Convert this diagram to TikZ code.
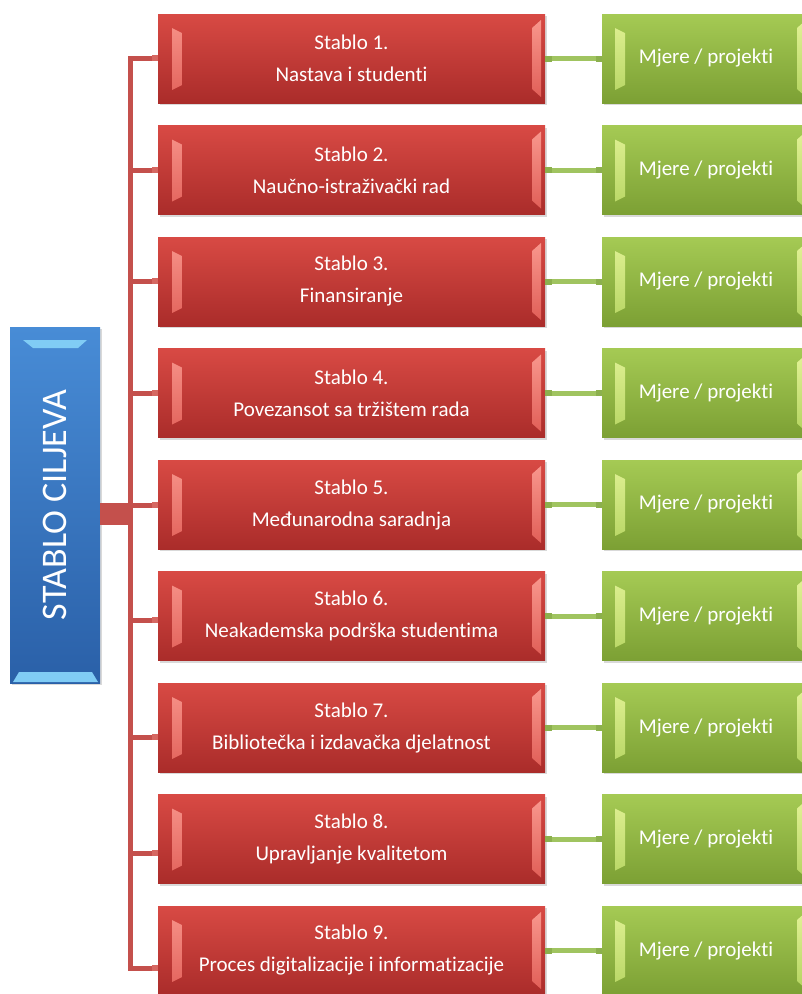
\documentclass[tikz,border=0pt]{standalone}
\usepackage{fontspec}
\setmainfont{Carlito}[Ligatures={NoCommon}]
\usetikzlibrary{calc,shadows}
\definecolor{redTop}{RGB}{216,74,68}
\definecolor{redBot}{RGB}{170,44,42}
\definecolor{redFacetA}{RGB}{248,150,140}
\definecolor{redFacetB}{RGB}{225,95,88}
\definecolor{greenTop}{RGB}{165,202,84}
\definecolor{greenBot}{RGB}{124,160,52}
\definecolor{greenFacetA}{RGB}{226,242,150}
\definecolor{greenFacetB}{RGB}{180,212,96}
\definecolor{blueTop}{RGB}{72,140,214}
\definecolor{blueBot}{RGB}{42,96,168}
\definecolor{blueFacet}{RGB}{128,204,245}
\definecolor{linkRed}{RGB}{196,80,76}
\definecolor{stubRed}{RGB}{214,104,98}
\definecolor{linkGreen}{RGB}{160,196,96}
\definecolor{stubGreen}{RGB}{140,176,78}
\begin{document}
\begin{tikzpicture}[x=1pt,y=1pt,
  box/.style={rectangle, inner sep=0pt, text=white, align=center,
    drop shadow={shadow xshift=1.5pt, shadow yshift=-2pt, opacity=0.3}},
  redbox/.style={box, minimum width=387pt, minimum height=89pt,
    top color=redTop, bottom color=redBot, font=\fontsize{21}{32}\selectfont,
    path picture={
      \shade[top color=redFacetA, bottom color=redFacetB]
        ($(path picture bounding box.north west)+(14,-14)$) -- ++(10,-5)
        -- ($(path picture bounding box.south west)+(24,18)$) -- ++(-10,-5) -- cycle;
      \shade[top color=redFacetA, bottom color=redFacetB]
        ($(path picture bounding box.north east)+(-4,-6)$) -- ++(-9,-8)
        -- ($(path picture bounding box.south east)+(-13,14)$) -- ++(9,-8) -- cycle;
    }},
  greenbox/.style={box, minimum width=208pt, minimum height=89pt,
    top color=greenTop, bottom color=greenBot, font=\fontsize{21}{32}\selectfont,
    path picture={
      \shade[top color=greenFacetA, bottom color=greenFacetB]
        ($(path picture bounding box.north west)+(13,-14)$) -- ++(10,-5)
        -- ($(path picture bounding box.south west)+(23,18)$) -- ++(-10,-5) -- cycle;
      \shade[top color=greenFacetA, bottom color=greenFacetB]
        ($(path picture bounding box.north east)+(-4,-6)$) -- ++(-9,-8)
        -- ($(path picture bounding box.south east)+(-13,14)$) -- ++(9,-8) -- cycle;
    }},
  bluebox/.style={box, minimum width=90pt, minimum height=356pt,
    top color=blueTop, bottom color=blueBot, font=\fontsize{36}{40}\selectfont,
    path picture={
      \fill[blueFacet]
        ($(path picture bounding box.north west)+(13,-13)$) -- ($(path picture bounding box.north east)+(-13,-13)$)
        -- ++(-9,-8) -- ($(path picture bounding box.north west)+(23,-21)$) -- cycle;
      \fill[blueFacet]
        ($(path picture bounding box.south west)+(3,1)$) -- ($(path picture bounding box.south east)+(-2,1)$)
        -- ++(-6,10) -- ($(path picture bounding box.south west)+(9,11)$) -- cycle;
    }},
  redlink/.style={draw=linkRed, line width=5pt},
  redstub/.style={draw=stubRed, line width=6pt},
  greenlink/.style={draw=linkGreen, line width=5pt},
  greenstub/.style={draw=stubGreen, line width=6pt}
]
\useasboundingbox (0,0) rectangle (802,-994);
\clip (0,0) rectangle (802,-994);

% blue root box
\node[bluebox] (blue) at (55,-505) {\rotatebox{90}{STABLO CILJEVA}};

% red and green boxes
\foreach \i/\txt in {1/Nastava i studenti, 2/Naučno-istraživački rad, 3/Finansiranje,
  4/Povezansot sa tržištem rada, 5/Međunarodna saradnja, 6/Neakademska podrška studentima,
  7/Bibliotečka i izdavačka djelatnost, 8/Upravljanje kvalitetom,
  9/Proces digitalizacije i informatizacije}{
  \pgfmathsetmacro{\yc}{-(58.5+111.5*(\i-1))}
  \node[redbox] (r\i) at (351.5,\yc) {Stablo \i.\\\txt};
  \node[greenbox] (g\i) at (706,\yc) {Mjere / projekti};
  \draw[greenlink] (r\i.east) -- (g\i.west);
  \draw[greenstub] (r\i.east) -- ++(7,0);
  \draw[greenstub] (g\i.west) -- ++(-6,0);
}

% trunk coordinates (branch heights)
\foreach \i/\yy in {1/58,2/170,3/281,4/393,5/505,6/620,7/737,8/853,9/968}{
  \coordinate (b\i) at (130.5,-\yy);
}
\coordinate (j) at (130.5,-514);

% red tree connectors
\draw[redlink, line join=miter] (b1 -| r1.west) -- (b1) -- (b9) -- (b9 -| r9.west);
\foreach \i in {2,...,8}{
  \draw[redlink] (b\i) -- (b\i -| r\i.west);
}
\foreach \i in {1,...,9}{
  \draw[redstub] (b\i -| r\i.west) -- ++(-6,0);
}
\draw[draw=linkRed, line width=22pt] (blue.east |- j) -- (j);
\end{tikzpicture}
\end{document}
